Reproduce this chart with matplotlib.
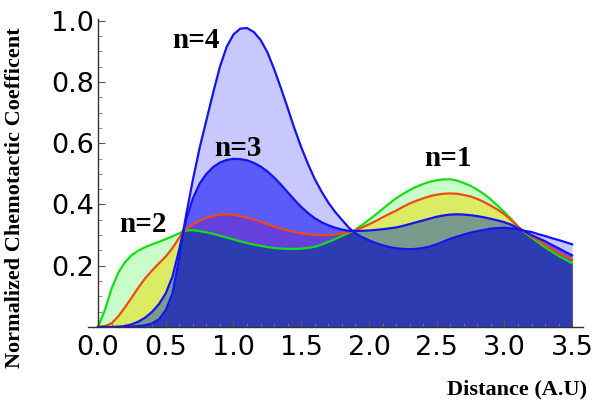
import numpy as np
import matplotlib
matplotlib.use("Agg")
import matplotlib.pyplot as plt
from matplotlib.ticker import MultipleLocator

# ---- data ----
distance = [0.0, 0.05, 0.1, 0.15, 0.2, 0.25, 0.3, 0.35, 0.4, 0.45, 0.5, 0.55, 0.6, 0.63,
            0.65, 0.7, 0.75, 0.8, 0.85, 0.9, 0.95, 1.0, 1.05, 1.1, 1.15, 1.2, 1.25, 1.3,
            1.35, 1.4, 1.45, 1.5, 1.55, 1.6, 1.65, 1.7, 1.75, 1.8, 1.85, 1.88, 1.9, 1.95,
            2.0, 2.05, 2.1, 2.15, 2.2, 2.25, 2.3, 2.35, 2.4, 2.45, 2.5, 2.55, 2.6, 2.65,
            2.7, 2.75, 2.8, 2.85, 2.9, 2.95, 3.0, 3.05, 3.1, 3.13, 3.15, 3.2, 3.25, 3.3,
            3.35, 3.4, 3.45, 3.5]

n1 = [0.0, 0.055, 0.125, 0.178, 0.212, 0.235, 0.25, 0.261, 0.27, 0.278, 0.287, 0.296,
      0.306, 0.313, 0.315, 0.316, 0.313, 0.309, 0.304, 0.298, 0.292, 0.286, 0.28, 0.274,
      0.269, 0.265, 0.261, 0.258, 0.256, 0.255, 0.255, 0.256, 0.258, 0.262, 0.269, 0.278,
      0.287, 0.297, 0.307, 0.313, 0.318, 0.333, 0.35, 0.367, 0.385, 0.403, 0.42, 0.434,
      0.447, 0.458, 0.467, 0.474, 0.479, 0.482, 0.482, 0.478, 0.47, 0.461, 0.448, 0.434,
      0.416, 0.396, 0.375, 0.352, 0.328, 0.316, 0.309, 0.292, 0.276, 0.26, 0.246, 0.232,
      0.22, 0.208]

n2 = [0.0, 0.003, 0.012, 0.035, 0.065, 0.097, 0.13, 0.16, 0.185, 0.208, 0.23, 0.258,
      0.292, 0.313, 0.32, 0.335, 0.347, 0.356, 0.363, 0.367, 0.368, 0.366, 0.362, 0.357,
      0.351, 0.344, 0.336, 0.328, 0.321, 0.315, 0.31, 0.306, 0.303, 0.301, 0.300, 0.300,
      0.302, 0.305, 0.310, 0.313, 0.316, 0.325, 0.335, 0.346, 0.358, 0.369, 0.38, 0.392,
      0.403, 0.412, 0.42, 0.427, 0.432, 0.435, 0.436, 0.435, 0.431, 0.426, 0.418, 0.408,
      0.396, 0.383, 0.368, 0.349, 0.328, 0.316, 0.311, 0.296, 0.282, 0.268, 0.255, 0.243,
      0.231, 0.22]

n3 = [0.0, 0.0, 0.0, 0.001, 0.003, 0.009, 0.018, 0.031, 0.05, 0.075, 0.11, 0.165,
      0.255, 0.313, 0.35, 0.42, 0.468, 0.50, 0.522, 0.537, 0.545, 0.549, 0.548, 0.544,
      0.536, 0.524, 0.508, 0.488, 0.465, 0.44, 0.415, 0.392, 0.372, 0.355, 0.342, 0.332,
      0.324, 0.318, 0.314, 0.313, 0.313, 0.314, 0.315, 0.317, 0.319, 0.322, 0.325, 0.33,
      0.336, 0.342, 0.348, 0.354, 0.36, 0.364, 0.367, 0.368, 0.367, 0.365, 0.362, 0.358,
      0.353, 0.348, 0.342, 0.334, 0.322, 0.316, 0.312, 0.30, 0.29, 0.28, 0.268, 0.257,
      0.245, 0.234]

n4 = [0.0, 0.0, 0.0, 0.0, 0.0, 0.001, 0.003, 0.006, 0.012, 0.025, 0.055, 0.11,
      0.225, 0.313, 0.365, 0.48, 0.585, 0.675, 0.765, 0.85, 0.915, 0.955, 0.974, 0.976,
      0.963, 0.937, 0.897, 0.842, 0.78, 0.715, 0.648, 0.587, 0.532, 0.483, 0.442, 0.406,
      0.376, 0.35, 0.325, 0.313, 0.306, 0.293, 0.283, 0.274, 0.267, 0.261, 0.257, 0.255,
      0.254, 0.255, 0.258, 0.263, 0.27, 0.279, 0.288, 0.295, 0.302, 0.308, 0.313, 0.317,
      0.321, 0.323, 0.324, 0.322, 0.319, 0.316, 0.314, 0.31, 0.303, 0.297, 0.29, 0.284,
      0.277, 0.27]

labels = ["n=1", "n=2", "n=3", "n=4"]
label_pos = [(2.58, 0.55), (0.33, 0.335), (1.03, 0.583), (0.72, 0.935)]
x_ticks = [0.0, 0.5, 1.0, 1.5, 2.0, 2.5, 3.0, 3.5]
y_ticks = [0.2, 0.4, 0.6, 0.8, 1.0]

# ---- styles ----
line_colors = ["#12E012", "#F04A14", "#1414F0", "#1414F0"]
region_colors = {
    (0,): "#C8FFC8",
    (0, 1): "#DCEB64",
    (0, 1, 2): "#7A9A8C",
    (0, 1, 2, 3): "#2D3CB0",
    (3,): "#C8C8FF",
    (2, 3): "#5B5BFA",
    (1, 2, 3): "#6640DC",
}

fig = plt.figure(figsize=(5.96, 4.07), dpi=100)
ax = fig.add_axes([88 / 596, 80 / 407, (583 - 88) / 596, (390 - 80) / 407])

x = np.array(distance)
curves = [np.array(c) for c in (n1, n2, n3, n4)]

for mask in range(1, 16):
    S = tuple(i for i in range(4) if mask >> i & 1)
    notS = [i for i in range(4) if i not in S]
    upper = np.min([curves[i] for i in S], axis=0)
    lower = np.max([curves[i] for i in notS], axis=0) if notS else np.zeros_like(x)
    lower = np.maximum(lower, 0)
    if S in region_colors:
        col = region_colors[S]
    elif len(S) >= 3:
        col = "#2D3CB0"
    elif 3 in S or 2 in S:
        col = "#7070F0"
    else:
        col = "#DCEB64"
    ax.fill_between(x, lower, upper, where=upper > lower, interpolate=True,
                    facecolor=col, edgecolor=col, linewidth=0.4, zorder=1)

for c, col in zip(curves, line_colors):
    ax.plot(x, c, color=col, lw=1.6, zorder=3, solid_joinstyle="round")

for lab, (lx, ly) in zip(labels, label_pos):
    ax.text(lx, ly, lab, ha="center", va="center", fontsize=21,
            family="Liberation Serif", fontweight="bold", zorder=5)

ax.set_xlim(-0.074, 3.58)
ax.set_ylim(0, 1.012)
for s in ("top", "right"):
    ax.spines[s].set_visible(False)
ax.spines["left"].set_position(("data", 0))
ax.spines["left"].set_bounds(0, 1.005)
for s in ("left", "bottom"):
    ax.spines[s].set_color("#333333")
    ax.spines[s].set_linewidth(1.0)
    ax.spines[s].set_zorder(4)

ax.set_xticks(x_ticks)
ax.set_xticklabels([f"{v:.1f}" for v in x_ticks])
ax.set_yticks(y_ticks)
ax.set_yticklabels([f"{v:.1f}" for v in y_ticks])
ax.xaxis.set_minor_locator(MultipleLocator(0.1))
ax.yaxis.set_minor_locator(MultipleLocator(0.05))
ax.tick_params(which="major", direction="in", length=5, width=0.8, color="#555555",
               labelsize=19.5, pad=6)
ax.tick_params(which="minor", direction="in", length=3, width=0.6, color="#777777")
ax.tick_params(axis="y", which="major", pad=3)
for t in ax.get_xticklabels() + ax.get_yticklabels():
    t.set_family("DejaVu Sans")

fig.text(587 / 596, 1 - 389 / 407, "Distance (A.U)", ha="right", va="center",
         fontsize=16, family="Liberation Serif", fontweight="bold")
fig.text(15 / 596, 1 - 198 / 407, "Normalized Chemotactic Coefficent", rotation=90,
         ha="center", va="center", fontsize=16, family="Liberation Serif",
         fontweight="bold")

fig.savefig("out.png", dpi=100)
